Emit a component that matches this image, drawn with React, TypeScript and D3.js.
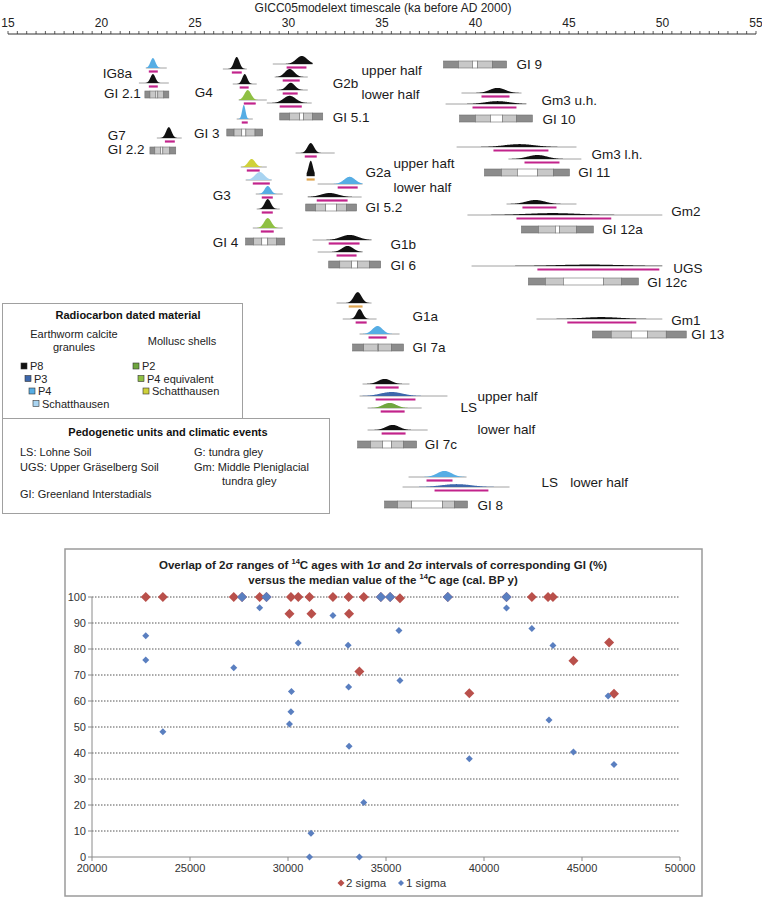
import React from 'react';
import * as d3 from 'd3';

// ---- top panel: GICC05 timescale (ka) ----
const axisLabels = [15, 20, 25, 30, 35, 40, 45, 50, 55];

const matColors: Record<string, string> = {
  P8: '#111111',
  P3: '#3d67ab',
  P4: '#56ade4',
  SchE: '#a9d4f1',
  P2: '#6fa63f',
  P4eq: '#8fc043',
  SchM: '#cfd13a',
};

// material, peak (ka), tail from, tail to, rel. density, lane, 2σ bar from, bar to, bar type
const dists: [string, number, number, number, number, number, number, number, string][] = [
  ['P4', 22.75, 22.37, 23.49, 0.62, 68, 22.53, 23.01, 'm'],
  ['P8', 22.75, 22.0, 23.6, 0.56, 83, 22.53, 23.01, 'm'],
  ['P8', 23.6, 22.96, 24.29, 0.68, 138, 23.39, 23.92, 'm'],
  ['P8', 27.23, 26.49, 27.77, 0.75, 69, 26.97, 27.5, 'm'],
  ['P8', 27.66, 27.02, 28.3, 0.62, 84, 27.39, 27.87, 'm'],
  ['P4eq', 27.82, 27.34, 28.84, 0.62, 100, 27.61, 28.25, 'm'],
  ['P4', 27.61, 27.23, 28.09, 0.88, 119, 27.5, 27.82, 'm'],
  ['P8', 30.71, 29.16, 31.29, 0.5, 64, 29.9, 30.96, 'm'],
  ['P8', 30.06, 29.26, 31.03, 0.5, 77, 29.69, 30.6, 'm'],
  ['P8', 30.12, 29.37, 31.03, 0.45, 90, 29.69, 30.49, 'm'],
  ['P8', 30.06, 28.84, 31.24, 0.45, 103, 29.53, 30.71, 'm'],
  ['SchM', 28.03, 27.45, 28.84, 0.5, 167, 27.77, 28.46, 'm'],
  ['SchE', 28.46, 27.71, 29.1, 0.5, 180, 28.09, 29.0, 'm'],
  ['P4', 28.89, 28.25, 29.69, 0.5, 194, 28.57, 29.16, 'm'],
  ['P8', 28.89, 28.3, 29.53, 0.62, 209, 28.57, 29.16, 'm'],
  ['P4eq', 28.89, 28.09, 29.69, 0.62, 228, 28.52, 29.21, 'm'],
  ['P8', 31.19, 30.38, 32.47, 0.62, 153, 30.87, 31.51, 'm'],
  ['P8', 31.19, 30.97, 31.4, 0.95, 176, 30.97, 31.4, 'o'],
  ['P4', 33.27, 31.56, 33.96, 0.45, 184, 32.63, 33.7, 'm'],
  ['P8', 32.2, 31.03, 33.91, 0.25, 197, 31.51, 33.16, 'm'],
  ['P8', 33.27, 31.29, 34.44, 0.32, 240, 32.15, 33.8, 'm'],
  ['P8', 33.16, 31.56, 33.96, 0.38, 252, 32.57, 33.64, 'm'],
  ['P8', 33.7, 32.57, 34.44, 0.68, 303, 33.22, 33.96, 'o'],
  ['P8', 33.8, 32.9, 34.71, 0.62, 319, 33.59, 34.18, 'm'],
  ['P4', 34.76, 33.8, 35.94, 0.5, 334, 34.28, 35.25, 'm'],
  ['P8', 35.14, 33.96, 36.47, 0.32, 384, 34.66, 35.89, 'm'],
  ['P3', 35.51, 33.8, 38.5, 0.25, 396, 34.66, 36.79, 'm'],
  ['P2', 35.41, 34.23, 37.12, 0.32, 408, 34.93, 36.21, 'm'],
  ['P8', 35.57, 34.23, 37.44, 0.32, 430, 34.98, 36.26, 'm'],
  ['P4', 38.34, 36.42, 39.52, 0.38, 477, 37.38, 38.77, 'm'],
  ['P3', 38.98, 36.1, 41.82, 0.18, 487, 37.81, 40.69, 'm'],
  ['P8', 41.18, 39.25, 42.46, 0.32, 93, 40.32, 41.82, 'm'],
  ['P8', 41.18, 38.4, 42.72, 0.18, 104, 39.84, 42.19, 'm'],
  ['P8', 42.35, 38.99, 45.4, 0.18, 147, 40.96, 43.9, 'm'],
  ['P8', 43.31, 41.76, 45.66, 0.25, 159, 42.62, 44.49, 'm'],
  ['P8', 43.21, 41.66, 45.4, 0.25, 204, 42.51, 44.33, 'm'],
  ['P8', 44.11, 39.57, 49.99, 0.12, 215, 42.19, 47.26, 'm'],
  ['P8', 46.09, 39.79, 49.99, 0.09, 266, 43.31, 49.83, 'm'],
  ['P8', 46.73, 43.26, 49.99, 0.12, 319, 44.91, 48.6, 'm'],
];

// GI: 2σ start, 1σ start, median zone start, end, 1σ end, 2σ end (ka), lane
const giBoxes: [string, number[], number][] = [
  ['GI 2.1', [22.32, 22.59, 22.91, 23.01, 23.33, 23.6], 91],
  ['GI 2.2', [22.59, 22.85, 23.17, 23.28, 23.65, 23.97], 147],
  ['GI 3', [26.7, 27.09, 27.5, 27.72, 28.21, 28.62], 129],
  ['GI 5.1', [29.53, 30.06, 30.6, 30.81, 31.29, 31.83], 113],
  ['GI 4', [27.71, 28.14, 28.57, 28.89, 29.37, 29.8], 238],
  ['GI 5.2', [30.92, 31.45, 31.99, 32.57, 33.11, 33.64], 204],
  ['GI 6', [32.15, 32.74, 33.38, 33.7, 34.34, 34.93], 261],
  ['GI 7a', [33.43, 34.02, 34.76, 34.82, 35.51, 36.15], 344],
  ['GI 7c', [33.7, 34.39, 35.03, 35.51, 36.15, 36.85], 441],
  ['GI 8', [35.14, 35.83, 36.58, 38.24, 38.88, 39.57], 501],
  ['GI 9', [38.29, 39.09, 39.84, 40.11, 40.91, 41.66], 61],
  ['GI 10', [39.15, 40.0, 40.8, 41.44, 42.19, 43.04], 115],
  ['GI 11', [40.48, 41.39, 42.24, 43.31, 44.17, 45.02], 169],
  ['GI 12a', [42.46, 43.37, 44.27, 44.49, 45.4, 46.3], 226],
  ['GI 12c', [42.83, 43.74, 44.7, 46.84, 47.8, 48.71], 278],
  ['GI 13', [46.25, 47.26, 48.33, 49.19, 50.2, 51.27], 331],
];

const unitLabels: [string, number, number][] = [
  ['IG8a', 20.07, 73], ['GI 2.1', 20.13, 93], ['G4', 24.99, 92], ['GI 3', 24.94, 133],
  ['G7', 20.34, 135], ['GI 2.2', 20.34, 149], ['upper half', 33.91, 70], ['G2b', 32.36, 83],
  ['lower half', 33.91, 94], ['GI 5.1', 32.36, 117], ['GI 9', 42.19, 64], ['Gm3 u.h.', 43.53, 100],
  ['GI 10', 43.58, 119], ['Gm3 l.h.', 46.2, 154], ['GI 11', 45.5, 172], ['upper haft', 35.62, 163],
  ['G2a', 34.12, 172], ['lower half', 35.62, 187], ['GI 5.2', 34.12, 207], ['G3', 25.95, 195],
  ['GI 4', 25.95, 242], ['G1b', 35.46, 244], ['GI 6', 35.46, 265], ['Gm2', 50.47, 211],
  ['GI 12a', 46.78, 229], ['UGS', 50.58, 268], ['GI 12c', 49.19, 282], ['G1a', 36.63, 316],
  ['GI 7a', 36.63, 347], ['Gm1', 50.47, 320], ['GI 13', 51.54, 334], ['upper half', 40.11, 396],
  ['LS', 39.2, 407], ['lower half', 40.11, 429], ['GI 7c', 37.28, 444], ['LS', 43.53, 482],
  ['lower half', 45.07, 482], ['GI 8', 40.11, 505],
];

const earthworm = [['P8', 'P8'], ['P3', 'P3'], ['P4', 'P4'], ['SchE', 'Schatthausen']];
const mollusc = [['P2', 'P2'], ['P4eq', 'P4 equivalent'], ['SchM', 'Schatthausen']];

// ---- bottom panel: overlap (%) vs median 14C age (cal BP) ----
const sigma2: [number, number][] = [
  [22743, 100], [23616, 100], [27232, 100], [27656, 100], [28554, 100], [28903, 100],
  [30150, 100], [30524, 100], [31097, 100], [32294, 100], [33092, 100], [33865, 100],
  [34738, 100], [35212, 100], [35710, 99.5], [38155, 100], [41147, 100], [42444, 100],
  [43267, 100], [43516, 100], [30075, 93.6], [31197, 93.6], [33117, 93.6], [33641, 71.3],
  [39252, 63], [44564, 75.5], [46384, 82.5], [46633, 62.8],
];
const sigma1: [number, number][] = [
  [27656, 100], [28903, 100], [34738, 100], [35212, 100], [38155, 100], [41147, 100],
  [22743, 85.1], [22743, 75.8], [27232, 72.8], [28554, 95.9], [30524, 82.3], [30175, 63.7],
  [30150, 55.9], [30075, 51.2], [32294, 92.9], [33067, 81.4], [33092, 65.4], [35661, 87.1],
  [35711, 67.9], [41147, 95.8], [42444, 87.9], [43516, 81.3], [43317, 52.7], [46334, 61.9],
  [23616, 48.2], [33117, 42.6], [39252, 37.8], [44564, 40.4], [46633, 35.6], [33865, 21.0],
  [31172, 9.1], [31097, 0], [33641, 0],
];
const overlapTicks = [0, 10, 20, 30, 40, 50, 60, 70, 80, 90, 100];
const ageTicks = [20000, 25000, 30000, 35000, 40000, 45000, 50000];

const SANS = 'Liberation Sans, Arial, sans-serif';
const NARROW = 'Liberation Sans Narrow, Arial Narrow, Liberation Sans, Arial, sans-serif';
const MAGENTA = '#c2238b';
const ORANGE = '#e0a550';

function Diamond({ cx, cy, r, fill }: { cx: number; cy: number; r: number; fill: string }) {
  const path = d3.symbol(d3.symbolSquare, 2 * r * r)();
  return <path d={path || ''} transform={`translate(${cx},${cy}) rotate(45)`} fill={fill} />;
}

export default function App() {
  const x = d3.scaleLinear().domain([15, 55]).range([8, 756]);
  const dens = d3.scaleLinear().domain([0, 1]).range([0, 16]);

  const xB = d3.scaleLinear().domain([20000, 50000]).range([92, 680]);
  const yB = d3.scaleLinear().domain([0, 100]).range([857, 597]);

  const minorTicks = d3.range(15, 55.01, 0.5);

  return (
    <svg width={762} height={901} style={{ position: 'absolute', left: 0, top: 0, background: '#fff' }}>
      {/* top axis */}
      <text x={383} y={8} textAnchor="middle" dominantBaseline="central" fontFamily={SANS} fontSize={12} fill="#222">
        GICC05modelext timescale (ka before AD 2000)
      </text>
      {axisLabels.map((t) => (
        <text key={t} x={x(t)} y={23} textAnchor="middle" dominantBaseline="central" fontFamily={SANS} fontSize={12} fill="#222">
          {t}
        </text>
      ))}
      <line x1={x(15)} x2={x(55)} y1={34} y2={34} stroke="#333" strokeWidth={1} />
      {minorTicks.map((t) => (
        <line key={t} x1={x(t)} x2={x(t)} y1={34} y2={31} stroke="#333" strokeWidth={0.8} />
      ))}

      {/* probability distributions */}
      {dists.map(([mat, peak, lo, hi, dv, lane, b0, b1, kind], i) => {
        const s = (b1 - b0) / 3.6;
        const pts = d3.range(lo, hi, (hi - lo) / 160).concat([hi]);
        const area = d3
          .area<number>()
          .x((t) => x(t))
          .y0(lane)
          .y1((t) => lane - dens(dv) * Math.exp(-0.5 * ((t - peak) / s) ** 2));
        return (
          <g key={i}>
            <line x1={x(lo)} x2={x(hi)} y1={lane} y2={lane} stroke="#8a8a8a" strokeWidth={0.8} />
            <path d={area(pts) || ''} fill={matColors[mat]} />
            <line
              x1={x(b0)} x2={x(b1)} y1={lane + 3.5} y2={lane + 3.5}
              stroke={kind === 'o' ? ORANGE : MAGENTA} strokeWidth={2.2}
            />
          </g>
        );
      })}

      {/* GI boxes */}
      {giBoxes.map(([name, e, lane]) => {
        const fills = ['#8c8c8c', '#c8c8c8', '#ffffff', '#c8c8c8', '#8c8c8c'];
        return (
          <g key={name}>
            {fills.map((f, k) => (
              <rect key={k} x={x(e[k])} y={lane} width={x(e[k + 1]) - x(e[k])} height={7} fill={f} stroke="#707070" strokeWidth={0.6} />
            ))}
          </g>
        );
      })}

      {unitLabels.map(([t, k, y], i) => (
        <text key={i} x={x(k)} y={y} dominantBaseline="central" fontFamily={SANS} fontSize={13.5} fill="#1a1a1a">
          {t}
        </text>
      ))}

      {/* legend: material */}
      <rect x={2.5} y={303.5} width={240} height={115} fill="#fff" stroke="#a0a0a0" />
      <text x={128} y={315} textAnchor="middle" dominantBaseline="central" fontFamily={SANS} fontSize={11} fontWeight="bold" fill="#111">
        Radiocarbon dated material
      </text>
      <text x={74} y={334} textAnchor="middle" dominantBaseline="central" fontFamily={SANS} fontSize={11} fill="#222">Earthworm calcite</text>
      <text x={74} y={347} textAnchor="middle" dominantBaseline="central" fontFamily={SANS} fontSize={11} fill="#222">granules</text>
      <text x={182} y={341} textAnchor="middle" dominantBaseline="central" fontFamily={SANS} fontSize={11} fill="#222">Mollusc shells</text>
      {earthworm.map(([m, t], i) => (
        <g key={m} transform={`translate(${21 + i * 4},${363 + i * 12.5})`}>
          <rect width={6} height={6} fill={matColors[m]} stroke="#333" strokeWidth={0.6} />
          <text x={9} y={3} dominantBaseline="central" fontFamily={SANS} fontSize={11} fill="#222">{t}</text>
        </g>
      ))}
      {mollusc.map(([m, t], i) => (
        <g key={m} transform={`translate(${133 + i * 5},${363 + i * 12.5})`}>
          <rect width={6} height={6} fill={matColors[m]} stroke="#333" strokeWidth={0.6} />
          <text x={9} y={3} dominantBaseline="central" fontFamily={SANS} fontSize={11} fill="#222">{t}</text>
        </g>
      ))}

      {/* legend: units */}
      <rect x={2.5} y={418.5} width={327} height={95} fill="#fff" stroke="#a0a0a0" />
      <text x={168} y={432} textAnchor="middle" dominantBaseline="central" fontFamily={SANS} fontSize={11} fontWeight="bold" fill="#111">
        Pedogenetic units and climatic events
      </text>
      {[
        ['LS: Lohne Soil', 20, 452], ['UGS: Upper Gräselberg Soil', 20, 467], ['GI: Greenland Interstadials', 20, 494],
        ['G: tundra gley', 194, 452], ['Gm: Middle Pleniglacial', 194, 467], ['tundra gley', 222, 481],
      ].map(([t, lx, ly]) => (
        <text key={t as string} x={lx as number} y={ly as number} dominantBaseline="central" fontFamily={SANS} fontSize={11} fill="#222">
          {t}
        </text>
      ))}

      {/* bottom chart */}
      <rect x={65} y={549} width={637} height={347} fill="#fff" stroke="#9a9a9a" strokeWidth={1.5} />
      <text x={383} y={565} textAnchor="middle" dominantBaseline="central" fontFamily={NARROW} fontSize={11.5} fontWeight="bold" fill="#222">
        Overlap of 2σ ranges of <tspan fontSize={7.5} dy={-4}>14</tspan><tspan dy={4}>C ages with 1σ and 2σ intervals of corresponding GI (%)</tspan>
      </text>
      <text x={383} y={580} textAnchor="middle" dominantBaseline="central" fontFamily={NARROW} fontSize={11.5} fontWeight="bold" fill="#222">
        versus the median value of the <tspan fontSize={7.5} dy={-4}>14</tspan><tspan dy={4}>C age (cal. BP y)</tspan>
      </text>
      {overlapTicks.filter((t) => t > 0).map((t) => (
        <line key={t} x1={xB(20000)} x2={xB(50000)} y1={yB(t)} y2={yB(t)} stroke="#555" strokeWidth={1} strokeDasharray="1.5,1.5" />
      ))}
      <line x1={xB(20000)} x2={xB(20000)} y1={yB(0)} y2={yB(100)} stroke="#8a8a8a" strokeWidth={1} />
      <line x1={xB(20000)} x2={xB(50000)} y1={yB(0)} y2={yB(0)} stroke="#8a8a8a" strokeWidth={1} />
      {overlapTicks.map((t) => (
        <g key={t}>
          <line x1={xB(20000) - 4} x2={xB(20000)} y1={yB(t)} y2={yB(t)} stroke="#8a8a8a" />
          <text x={xB(20000) - 6} y={yB(t)} textAnchor="end" dominantBaseline="central" fontFamily={NARROW} fontSize={11} fill="#333">
            {t}
          </text>
        </g>
      ))}
      {ageTicks.map((t) => (
        <g key={t}>
          <line x1={xB(t)} x2={xB(t)} y1={yB(0)} y2={yB(0) + 4} stroke="#8a8a8a" />
          <text x={xB(t)} y={yB(0) + 11} textAnchor="middle" dominantBaseline="central" fontFamily={NARROW} fontSize={11} fill="#333">
            {t}
          </text>
        </g>
      ))}
      {sigma2.map(([a, o], i) => (
        <Diamond key={'r' + i} cx={xB(a)} cy={yB(o)} r={5} fill="#b9504b" />
      ))}
      {sigma1.map(([a, o], i) => (
        <Diamond key={'b' + i} cx={xB(a)} cy={yB(o)} r={o === 100 ? 5 : 3.5} fill="#5a7fc0" />
      ))}
      <Diamond cx={341} cy={883} r={3.5} fill="#b9504b" />
      <text x={346} y={883} dominantBaseline="central" fontFamily={NARROW} fontSize={11.5} fill="#333">2 sigma</text>
      <Diamond cx={401} cy={883} r={3} fill="#5a7fc0" />
      <text x={406} y={883} dominantBaseline="central" fontFamily={NARROW} fontSize={11.5} fill="#333">1 sigma</text>
    </svg>
  );
}
